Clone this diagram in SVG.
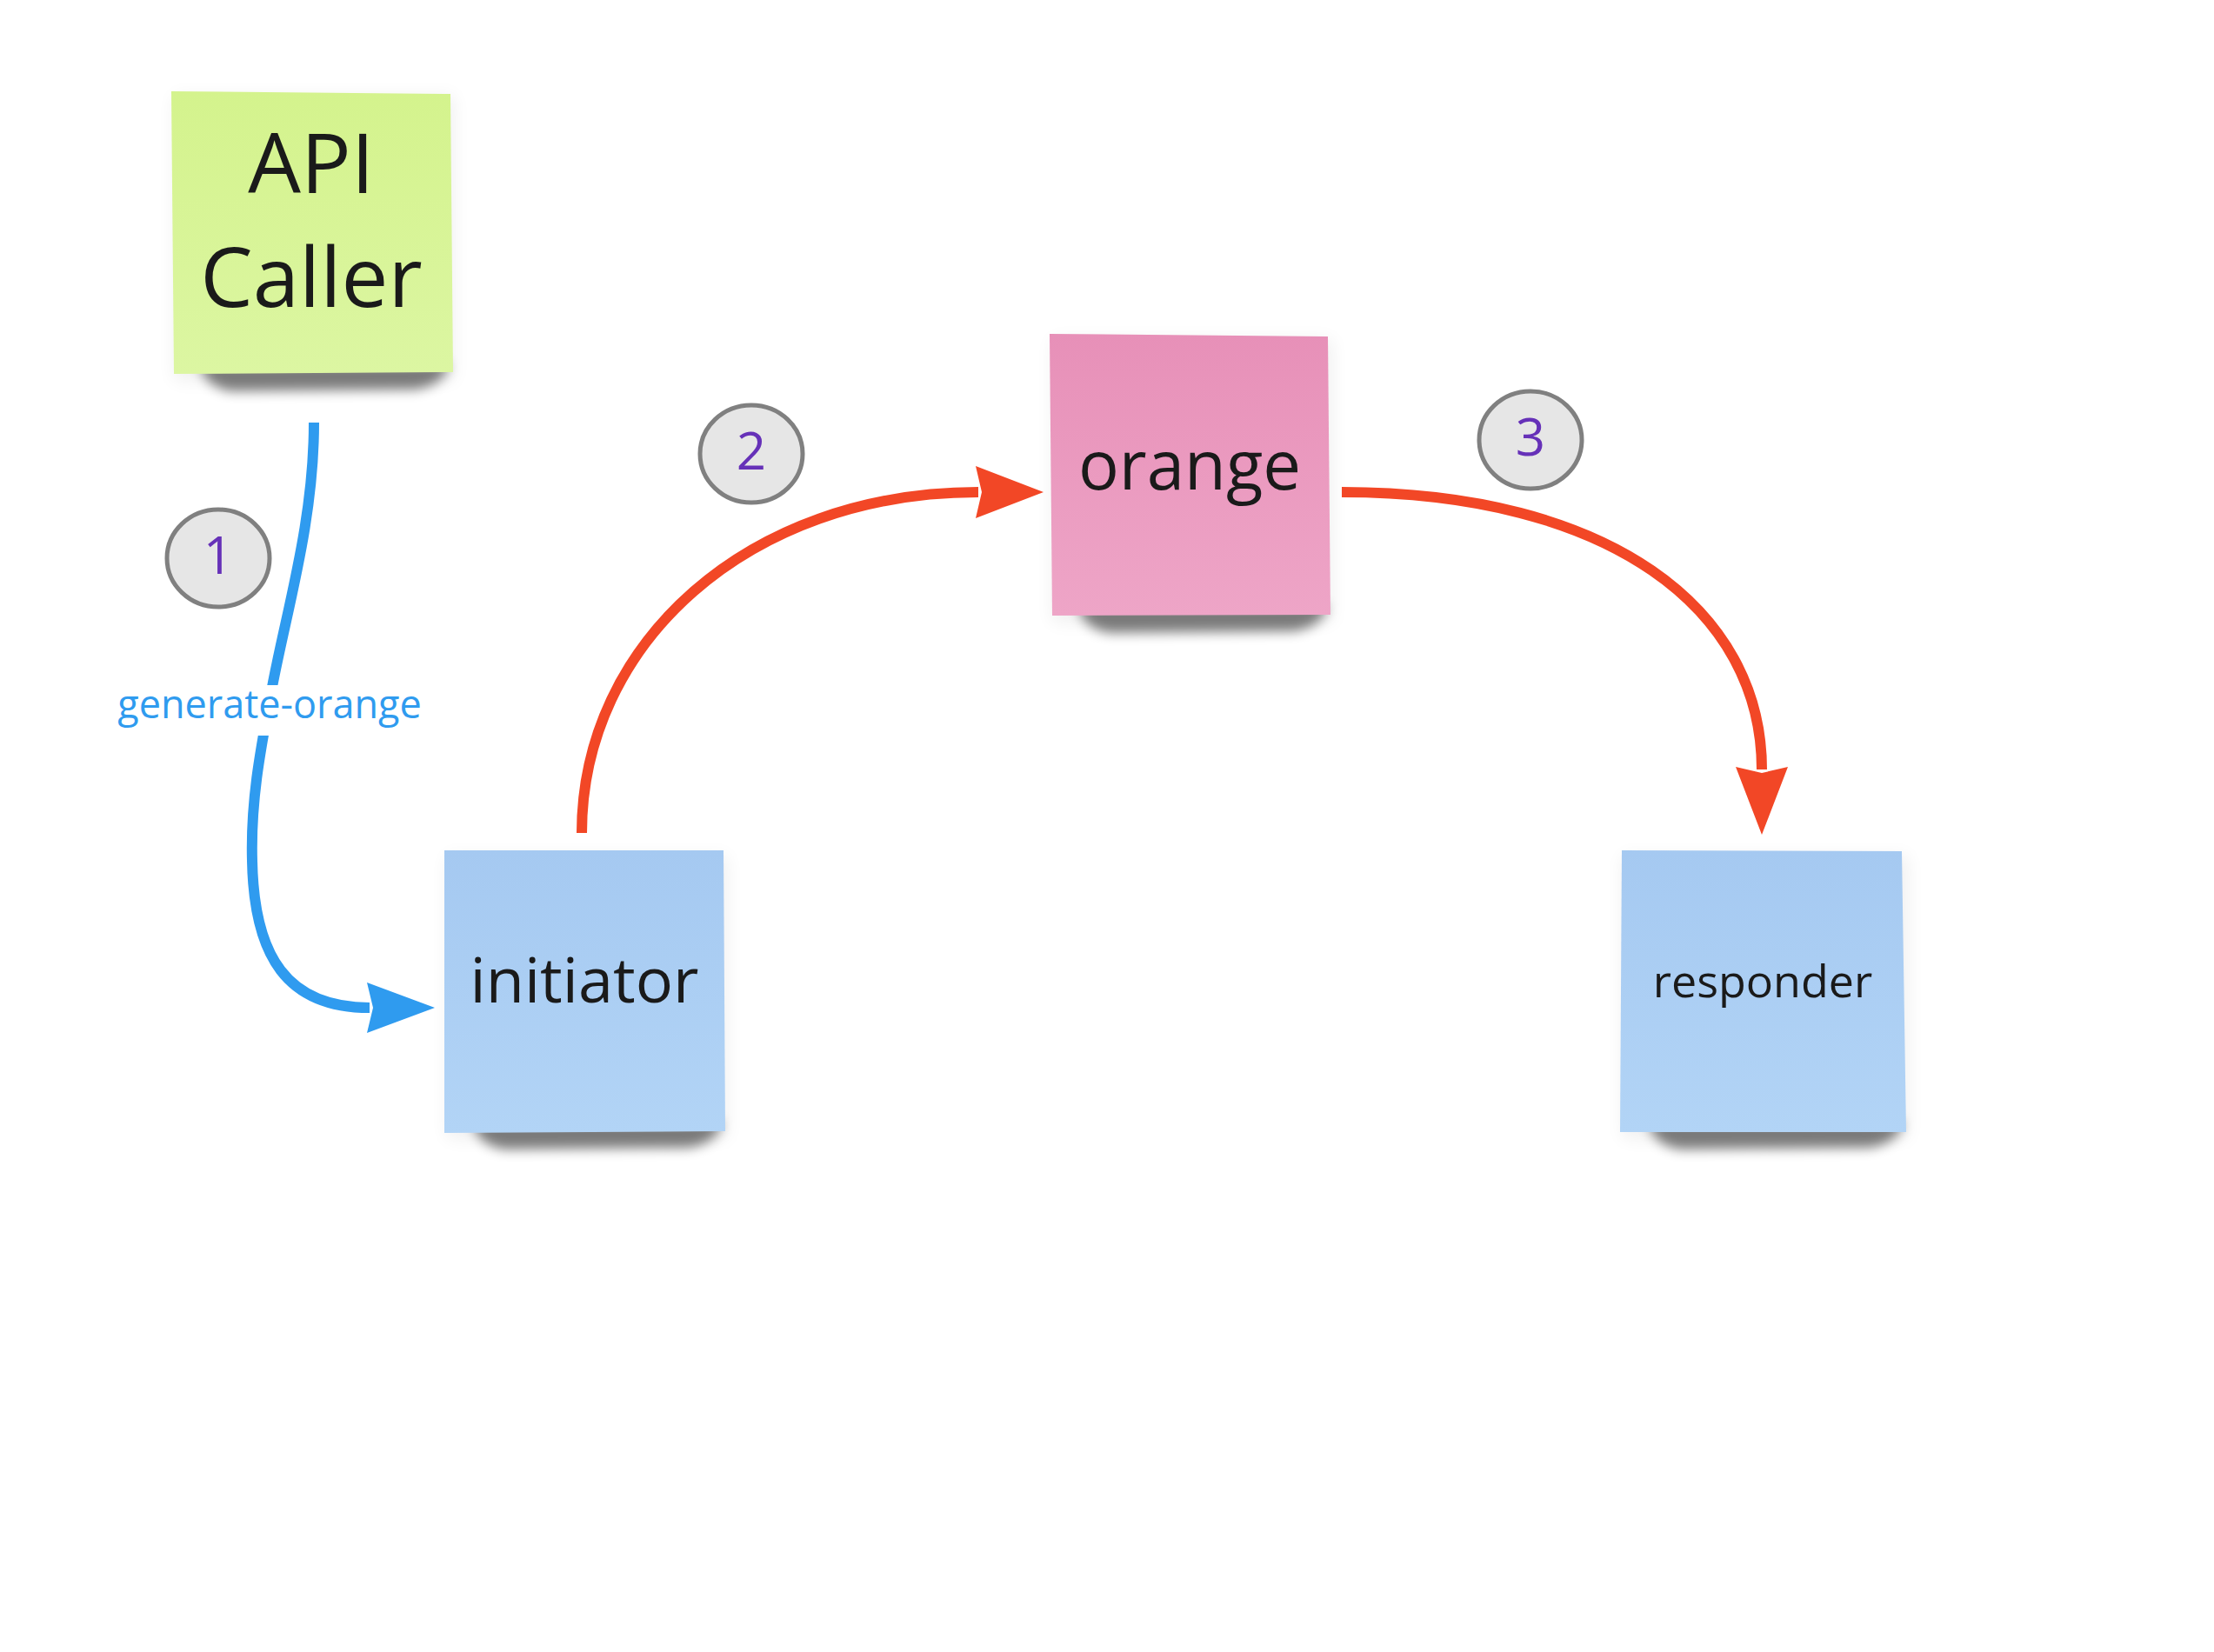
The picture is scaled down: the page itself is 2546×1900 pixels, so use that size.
<svg xmlns="http://www.w3.org/2000/svg" width="2546" height="1900" viewBox="0 0 2546 1900">
  <style>
    .note-text { font-family: "Open Sans", "Noto Sans", sans-serif; fill: #1a1a1a; text-anchor: middle; }
    .badge { fill: #e6e6e6; stroke: #808080; stroke-width: 5; }
    .badge-num { font-family: "Open Sans", "Noto Sans", sans-serif; font-size: 60px; fill: #6631b8; text-anchor: middle; }
    .edge { fill: none; stroke-width: 12; }
    .edge-blue { stroke: #2f9bef; }
    .edge-red { stroke: #f24726; }
    .edge-label { font-family: "Open Sans", "Noto Sans", sans-serif; font-size: 45px; fill: #2f9bef; text-anchor: middle; }
    .shadow { fill: #000; opacity: 0.5; filter: url(#soft); }
    .halo { fill: #000; opacity: 0.06; filter: url(#halo); }
  </style>
  <defs>
    <filter id="soft" x="-20%" y="-50%" width="140%" height="200%">
      <feGaussianBlur stdDeviation="7"/>
    </filter>
    <filter id="halo" x="-20%" y="-20%" width="140%" height="140%">
      <feGaussianBlur stdDeviation="10"/>
    </filter>
    <linearGradient id="g-green" x1="0" y1="0" x2="0" y2="1">
      <stop offset="0" stop-color="#d4f38d"/>
      <stop offset="1" stop-color="#dcf6a2"/>
    </linearGradient>
    <linearGradient id="g-pink" x1="0" y1="0" x2="0" y2="1">
      <stop offset="0" stop-color="#e790b8"/>
      <stop offset="1" stop-color="#eea5c7"/>
    </linearGradient>
    <linearGradient id="g-blue" x1="0" y1="0" x2="0" y2="1">
      <stop offset="0" stop-color="#a5c9f1"/>
      <stop offset="1" stop-color="#b2d4f6"/>
    </linearGradient>
    <marker id="head-blue" markerUnits="userSpaceOnUse" viewBox="0 -32 80 64" markerWidth="80" markerHeight="64" refX="3" refY="0" orient="auto">
      <path d="M0,-29 L78,0 L0,29 L7,0 z" fill="#2f9bef"/>
    </marker>
    <marker id="head-red" markerUnits="userSpaceOnUse" viewBox="0 -32 80 64" markerWidth="80" markerHeight="64" refX="3" refY="0" orient="auto">
      <path d="M0,-30 L78,0 L0,30 L7,0 z" fill="#f24726"/>
    </marker>
  </defs>

  <rect width="2546" height="1900" fill="#ffffff"/>

  <!-- sticky notes -->
  <g id="api-caller">
    <rect class="halo" x="200" y="110" width="322" height="328"/>
    <path class="shadow" d="M230,418 L516,418 Q512,442 478,448 L266,450 Q234,444 230,418 z"/>
    <polygon points="197,105 518,108 521,428 200,430" fill="url(#g-green)"/>
    <text class="note-text" font-size="96" x="358" y="222">API</text>
    <text class="note-text" font-size="96" x="358" y="353">Caller</text>
  </g>

  <g id="orange">
    <rect class="halo" x="1210" y="390" width="322" height="326"/>
    <path class="shadow" d="M1240,696 L1526,696 Q1522,720 1488,726 L1276,728 Q1244,722 1240,696 z"/>
    <polygon points="1207,384 1527,387 1530,707 1210,708" fill="url(#g-pink)"/>
    <text class="note-text" font-size="78" x="1368" y="563">orange</text>
  </g>

  <g id="initiator">
    <rect class="halo" x="514" y="984" width="322" height="326"/>
    <path class="shadow" d="M544,1290 L830,1290 Q826,1314 792,1320 L580,1322 Q548,1316 544,1290 z"/>
    <polygon points="511,978 832,978 834,1301 511,1303" fill="url(#g-blue)"/>
    <text class="note-text" font-size="72" x="672" y="1153">initiator</text>
  </g>

  <g id="responder">
    <rect class="halo" x="1866" y="984" width="328" height="326"/>
    <path class="shadow" d="M1896,1290 L2188,1290 Q2184,1314 2150,1320 L1932,1322 Q1900,1316 1896,1290 z"/>
    <polygon points="1865,978 2187,979 2192,1302 1863,1302" fill="url(#g-blue)"/>
    <text class="note-text" font-size="52" x="2027" y="1147">responder</text>
  </g>

  <!-- connectors -->
  <g id="connectors">
    <path class="edge edge-blue" d="M361,486 C361,600 330,700 313,790 C300,860 288,920 290,990 C292,1100 330,1159 425,1159" marker-end="url(#head-blue)"/>
    <rect x="140" y="788" width="340" height="58" fill="#ffffff"/>
    <text class="edge-label" x="310" y="826">generate-orange</text>

    <path class="edge edge-red" d="M669,958 C669,740 860,566 1125,566" marker-end="url(#head-red)"/>
    <path class="edge edge-red" d="M1543,566 C1850,566 2026,700 2026,885" marker-end="url(#head-red)"/>
  </g>

  <!-- step badges -->
  <g id="step-1">
    <ellipse class="badge" cx="251" cy="642" rx="59" ry="56"/>
    <text class="badge-num" x="251" y="660">1</text>
  </g>
  <g id="step-2">
    <ellipse class="badge" cx="864" cy="522" rx="59" ry="56"/>
    <text class="badge-num" x="864" y="540">2</text>
  </g>
  <g id="step-3">
    <ellipse class="badge" cx="1760" cy="506" rx="59" ry="56"/>
    <text class="badge-num" x="1760" y="524">3</text>
  </g>
</svg>
